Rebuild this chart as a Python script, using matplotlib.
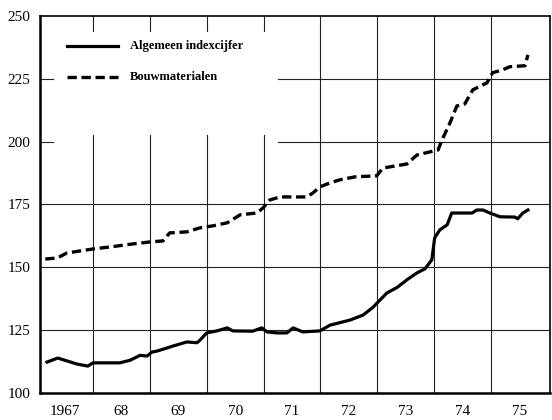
import matplotlib as mpl
mpl.use('Agg')
import matplotlib.pyplot as plt
import numpy as np

# Index figures (decimal year, index value)
alg_year = [1967.19, 1967.38, 1967.72, 1967.91, 1968.00, 1968.47, 1968.65, 1968.83,
            1968.95, 1969.04, 1969.13, 1969.30, 1969.41, 1969.65, 1969.83, 1969.88,
            1970.00, 1970.18, 1970.36, 1970.46, 1970.81, 1970.97, 1971.06, 1971.24,
            1971.41, 1971.52, 1971.69, 1971.99, 1972.17, 1972.52, 1972.75, 1972.92,
            1973.17, 1973.35, 1973.52, 1973.70, 1973.84, 1973.96, 1974.01, 1974.10,
            1974.23, 1974.31, 1974.67, 1974.75, 1974.86, 1974.98, 1975.16, 1975.42,
            1975.47, 1975.56, 1975.65]
alg_val = [112.3, 113.9, 111.5, 110.7, 112.0, 112.0, 113.0, 115.0,
           114.7, 116.3, 116.7, 117.9, 118.7, 120.3, 120.0, 121.0,
           123.9, 124.7, 125.9, 124.7, 124.6, 125.9, 124.3, 123.9,
           123.9, 125.9, 124.3, 124.7, 127.0, 129.0, 131.0, 134.0,
           139.8, 142.0, 145.0, 147.8, 149.4, 153.0, 161.7, 164.9,
           166.9, 171.6, 171.6, 172.8, 172.8, 171.6, 170.1, 170.0,
           169.3, 171.6, 172.8]

bouw_year = [1967.16, 1967.37, 1967.54, 1967.77, 1968.00, 1968.30, 1968.70, 1969.00,
             1969.23, 1969.35, 1969.65, 1969.88, 1970.11, 1970.36, 1970.59, 1970.88,
             1970.99, 1971.11, 1971.29, 1971.76, 1971.87, 1971.99, 1972.17, 1972.34,
             1972.61, 1972.99, 1973.10, 1973.52, 1973.70, 1974.07, 1974.14, 1974.28,
             1974.40, 1974.54, 1974.68, 1974.93, 1975.03, 1975.21, 1975.33, 1975.60,
             1975.65]
bouw_val = [153.3, 153.7, 155.7, 156.5, 157.3, 158.1, 159.3, 160.1,
            160.5, 163.7, 164.1, 165.7, 166.5, 167.7, 170.9, 171.6,
            173.6, 176.8, 178.0, 178.0, 179.6, 182.0, 183.6, 184.8,
            186.0, 186.4, 189.5, 191.1, 194.7, 196.7, 200.7, 207.5,
            214.2, 215.0, 220.6, 223.4, 227.4, 228.6, 229.8, 230.2,
            234.5]

years = [1967, 1968, 1969, 1970, 1971, 1972, 1973, 1974, 1975]
year_labels = ['1967', '68', '69', '70', '71', '72', '73', '74', '75']
y_ticks = [100, 125, 150, 175, 200, 225, 250]

plt.rcParams.update({'font.family': 'Liberation Serif', 'font.size': 11})

fig = plt.figure(figsize=(5.52, 4.2), dpi=100)
ax = fig.add_axes([0.0725, 0.0643, 0.924, 0.8977])
x0, x1 = 1967.068, 1976.04
ax.set_xlim(x0, x1)
ax.set_ylim(100, 250)

# grid drawn by hand so the legend area stays clear
gc = '#222222'
glw = 0.8
for yr in years[1:]:
    if yr <= 1971:
        ax.plot([yr, yr], [100, 202.6], color=gc, lw=glw, zorder=1)
        ax.plot([yr, yr], [244, 250], color=gc, lw=glw, zorder=1)
    else:
        ax.plot([yr, yr], [100, 250], color=gc, lw=glw, zorder=1)
for v in [125, 150, 175]:
    ax.plot([x0, x1], [v, v], color=gc, lw=glw, zorder=1)
for v in [200, 225]:
    ax.plot([x0, 1967.3], [v, v], color=gc, lw=glw, zorder=1)
    ax.plot([1971.25, x1], [v, v], color=gc, lw=glw, zorder=1)

ax.plot(alg_year, alg_val, color='black', lw=2.3, solid_joinstyle='round', zorder=3)
ax.plot(bouw_year, bouw_val, color='black', lw=2.4, dashes=(2.8, 1.4), zorder=3)

# legend
ax.plot([1967.55, 1968.44], [238.2, 238.2], color='black', lw=2.3, clip_on=False)
ax.plot([1967.55, 1968.44], [225.8, 225.8], color='black', lw=2.4, dashes=(2.8, 1.4))
ax.text(1968.65, 238.2, 'Algemeen indexcijfer', fontsize=9, fontweight='bold', va='center')
ax.text(1968.65, 225.8, 'Bouwmaterialen', fontsize=9, fontweight='bold', va='center')

ax.set_yticks(y_ticks)
ax.set_yticklabels([str(v) for v in y_ticks])
ax.set_xticks([y + 0.5 for y in years])
ax.set_xticklabels(year_labels)
ax.tick_params(axis='y', length=0, pad=7)
ax.tick_params(axis='x', length=0, pad=9)

for side in ['left', 'bottom']:
    ax.spines[side].set_linewidth(1.8)
for side in ['top', 'right']:
    ax.spines[side].set_linewidth(1.2)

fig.savefig('out.png', dpi=100)
